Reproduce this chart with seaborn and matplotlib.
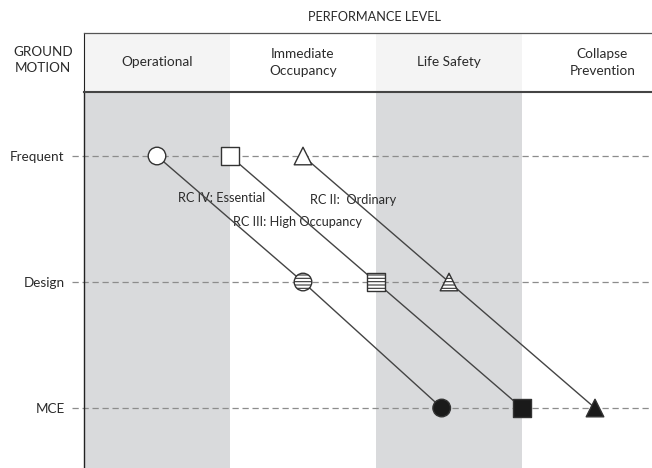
import pandas as pd
import seaborn as sns
import matplotlib.pyplot as plt

sns.set_style("white")
plt.rcParams['font.family'] = ['Lato', 'DejaVu Sans']
plt.rcParams['hatch.color'] = '#333333'
plt.rcParams['hatch.linewidth'] = 0.8

# performance levels (columns) and ground motion levels (rows)
levels = ["Operational", "Immediate\nOccupancy", "Life Safety", "Collapse\nPrevention"]
motions = ["Frequent", "Design", "MCE"]
motion_y = [2, 1, 0]

# position of each risk category along the performance axis (column units)
rc_iv = [0.5, 1.5, 2.45]
rc_iii = [1.0, 2.0, 3.0]
rc_ii = [1.5, 2.5, 3.5]
rc_names = ["RC IV: Essential", "RC III: High Occupancy", "RC II:  Ordinary"]

rows = []
for name, xs in zip(rc_names, [rc_iv, rc_iii, rc_ii]):
    for m, yv, xv in zip(motions, motion_y, xs):
        rows.append({'rc': name, 'motion': m, 'x': xv, 'y': yv})
df = pd.DataFrame(rows)

fig = plt.figure(figsize=(6.52, 4.68), dpi=100)
W, H = 652, 468
left = 84 / W
ax = fig.add_axes([left, 0, 1 - left, (468 - 92) / H])
axh = fig.add_axes([left, (468 - 92) / H, 1 - left, (92 - 33) / H])

xmax = (652 - 84) / 146
# shaded columns
for c in [0, 2]:
    ax.axvspan(c, c + 1, color='#d9dadc', lw=0, zorder=0)
    axh.axvspan(c, c + 1, color='#f4f4f4', lw=0, zorder=0)

# dashed guide lines, poking out to the left of the axis
for yv in motion_y:
    ax.axhline(yv, xmin=-12 / 568, xmax=1, color='#8c8c8c', lw=0.9,
               ls=(0, (5, 3)), clip_on=False, zorder=1)

sns.lineplot(data=df, x='x', y='y', units='rc', estimator=None, sort=False,
             color='#444444', lw=1.0, ax=ax, zorder=2, legend=False)

mk_map = {n: m for n, m in zip(rc_names, ['o', 's', '^'])}
styles = {
    'Frequent': dict(color='white', hatch=None),
    'Design': dict(color='white', hatch='-----'),
    'MCE': dict(color='#1a1a1a', hatch=None),
}
for m in motions:
    sub = df[df['motion'] == m]
    kw = dict(data=sub, x='x', y='y', style='rc', markers=mk_map, s=160,
              edgecolor='#333333', linewidth=1.0, ax=ax, zorder=3, legend=False,
              color=styles[m]['color'])
    if styles[m]['hatch']:
        kw['hatch'] = styles[m]['hatch']
    sns.scatterplot(**kw)

txt = '#2b2b2b'
# category labels
ax.text(0.645, 1.667, "RC IV: Essential", fontsize=9.2, color=txt, va='center', zorder=1.5)
ax.text(1.548, 1.65, "RC II:  Ordinary", fontsize=9.2, color=txt, va='center', zorder=1.5)
ax.text(1.02, 1.476, "RC III: High Occupancy", fontsize=9.2, color=txt, va='center', zorder=1.5)

ax.set_xlim(0, xmax)
ax.set_ylim(-0.476, 2.508)
ax.set_xticks([])
ax.set_yticks(motion_y)
ax.set_yticklabels(motions, fontsize=9.7, color=txt)
ax.tick_params(axis='y', length=0, pad=14)
ax.set_xlabel('')
ax.set_ylabel('')
for s in ['top', 'right', 'bottom']:
    ax.spines[s].set_visible(False)
ax.spines['left'].set_color('#222222')
ax.spines['left'].set_linewidth(1.0)

# header strip
axh.set_xlim(0, xmax)
axh.set_ylim(0, 1)
axh.set_xticks([])
axh.set_yticks([])
axh.spines['right'].set_visible(False)
axh.spines['top'].set_color('#555555')
axh.spines['top'].set_linewidth(0.9)
axh.spines['bottom'].set_color('#444444')
axh.spines['bottom'].set_linewidth(1.5)
axh.spines['left'].set_color('#222222')
for i, lab in enumerate(levels):
    cx = i + 0.5 if i < 3 else 3.55
    axh.text(cx, 0.5, lab, ha='center', va='center', fontsize=9.8,
             color=txt, linespacing=1.45)
fig.text(43 / W, 1 - 60 / H, "GROUND\nMOTION", ha='center', va='center',
         fontsize=9.7, color=txt, linespacing=1.45)
fig.text(375 / W, 1 - 17 / H, "PERFORMANCE LEVEL", ha='center', va='center',
         fontsize=9.2, color=txt)

fig.savefig("out.png", dpi=100)
